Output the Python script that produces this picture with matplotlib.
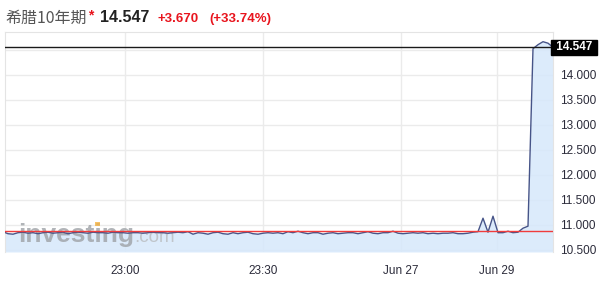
import numpy as np
import matplotlib
matplotlib.use("Agg")
import matplotlib.pyplot as plt
from matplotlib.patches import Rectangle

# --- DATA ---
title_name = "希腊10年期"
last_price = 14.547
change_abs = "+3.670"
change_pct = "(+33.74%)"
prev_close = 10.877

yields = [
    10.86, 10.82, 10.81, 10.84, 10.85, 10.83, 10.84, 10.82, 10.84, 10.85,
    10.83, 10.84, 10.85, 10.82, 10.84, 10.85, 10.84, 10.83, 10.85, 10.84,
    10.84, 10.83, 10.85, 10.84, 10.84,
    10.83, 10.84, 10.84, 10.83, 10.84, 10.85, 10.84, 10.84, 10.83, 10.84,
    10.85, 10.84, 10.86, 10.81, 10.84, 10.83, 10.81, 10.84, 10.85, 10.82,
    10.81, 10.84, 10.82, 10.84, 10.85, 10.82, 10.81, 10.83,
    10.84, 10.83, 10.84, 10.82, 10.86, 10.84, 10.87, 10.84, 10.82, 10.84,
    10.84, 10.81, 10.83, 10.84, 10.82, 10.83, 10.84, 10.84, 10.82, 10.84,
    10.86, 10.83, 10.82, 10.84, 10.84, 10.87, 10.83, 10.82, 10.83, 10.84,
    10.83, 10.84, 10.82, 10.83, 10.82, 10.83, 10.83, 10.84, 10.82, 10.82,
    10.83, 10.85,
    10.86, 11.13, 10.85, 11.17, 10.84, 10.84, 10.87, 10.84, 10.85, 10.93,
    10.97, 14.52, 14.60, 14.66, 14.63, 14.55,
]
tick_pos = [24.4, 52.0, 79.6, 98.8]
tick_labels = ["23:00", "23:30", "Jun 27", "Jun 29"]
y_ticks = [10.5, 11.0, 11.5, 12.0, 12.5, 13.0, 13.5, 14.0]

W, H = 600, 284
fig = plt.figure(figsize=(W / 100, H / 100), dpi=100)
fig.patch.set_facecolor("white")
ax = fig.add_axes([5 / W, 1 - 252 / H, 548 / W, 220 / H])

x = np.arange(len(yields))
ymin, ymax = 10.454, 14.854

# grid
for yv in y_ticks + [14.5]:
    ax.axhline(yv, color="#ebebeb", lw=1, zorder=0)
for xv in tick_pos:
    ax.axvline(xv, color="#ebebeb", lw=1, zorder=0)

ax.fill_between(x, yields, ymin, color="#d6e8fb", alpha=0.85, lw=0, zorder=1)

# watermark (above the fill, under the lines)
ax.text(0.0237, 0.045, "investing", transform=ax.transAxes, fontsize=19,
        fontweight="bold", color="#9ea2a6", alpha=0.8, family="Liberation Sans",
        va="baseline", zorder=2)
ax.text(0.236, 0.045, ".com", transform=ax.transAxes, fontsize=13.5,
        color="#b9bcbf", alpha=0.8, family="Liberation Sans", va="baseline",
        zorder=2)
fig.patches.append(Rectangle((95 / W, 1 - 226 / H), 5 / W, 4 / H,
                             transform=fig.transFigure, fc="#f5b342",
                             ec="none", alpha=0.8, zorder=0.5))

ax.plot(x, yields, color="#465488", lw=1, zorder=3)
ax.axhline(prev_close, color="#f03c3c", lw=1, zorder=4)
ax.axhline(last_price, color="#1a1a1a", lw=1, zorder=4)

ax.set_xlim(0.4, len(yields) - 1)
ax.set_ylim(ymin, ymax)
ax.set_xticks(tick_pos)
ax.set_xticklabels(tick_labels)
ax.set_yticks(y_ticks)
ax.set_yticklabels([f"{v:.3f}" for v in y_ticks])
ax.yaxis.tick_right()
ax.tick_params(axis="both", length=0, labelsize=8.5, colors="#2b2b3a")
ax.tick_params(axis="y", pad=5)
ax.tick_params(axis="x", pad=9)
for lab in ax.get_xticklabels() + ax.get_yticklabels():
    lab.set_family("Liberation Sans")
for side, sp in ax.spines.items():
    sp.set_color("#e4e4e4")
ax.spines["bottom"].set_visible(False)

# current price label
ax.text(1.0, last_price, f" {last_price:.3f} ", transform=ax.get_yaxis_transform(),
        ha="left", va="center", fontsize=8.5, fontweight="bold", color="white",
        family="Liberation Sans", clip_on=False, zorder=6,
        bbox=dict(boxstyle="square,pad=0.15", fc="black", ec="black"))

# header
fig.text(5 / W, 1 - 23 / H, title_name, fontsize=11.5, color="#555555",
         family=["Noto Sans CJK SC", "DejaVu Sans"], va="baseline")
fig.text(88 / W, 1 - 19 / H, "*", fontsize=10, color="#e8141d",
         fontweight="bold", family="Liberation Sans", va="baseline")
fig.text(100 / W, 1 - 22 / H, f"{last_price:.3f}", fontsize=11.5, color="#222222",
         fontweight="bold", family="Liberation Sans", va="baseline")
fig.text(157 / W, 1 - 22 / H, change_abs, fontsize=9.5, color="#e8141d",
         fontweight="bold", family="Liberation Sans", va="baseline")
fig.text(209 / W, 1 - 22 / H, change_pct, fontsize=9.5, color="#e8141d",
         fontweight="bold", family="Liberation Sans", va="baseline")

fig.savefig("out.png", dpi=100)
